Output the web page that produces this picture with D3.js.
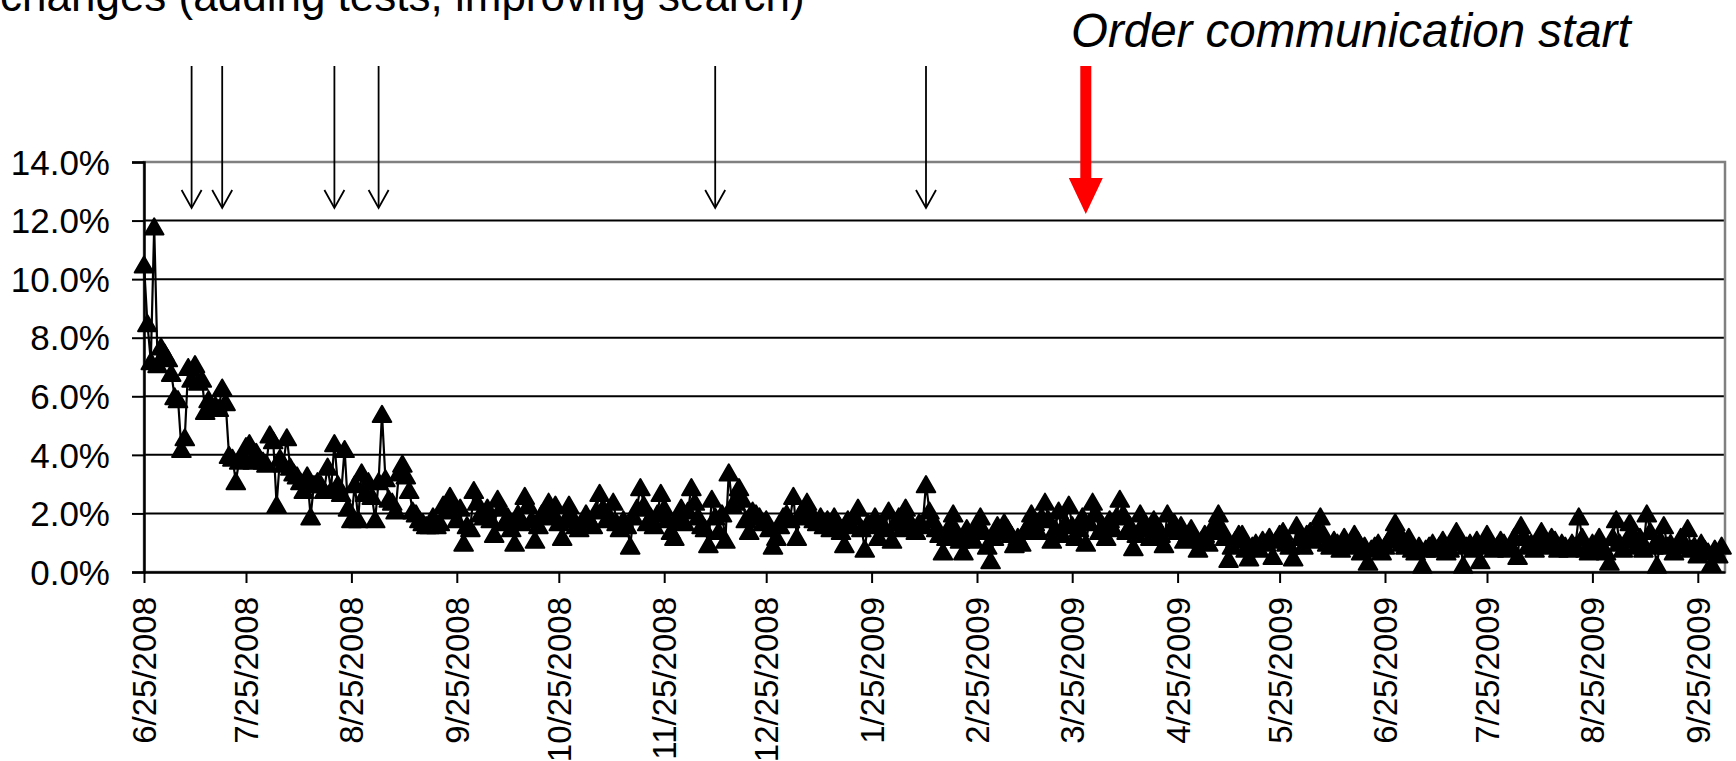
<!DOCTYPE html>
<html>
<head>
<meta charset="utf-8">
<script src="https://cdn.jsdelivr.net/npm/d3@7"></script>
<style>
  html, body { margin: 0; padding: 0; background: #fff; }
  svg { display: block; font-family: "Liberation Sans", Arial, sans-serif; }
</style>
</head>
<body>
<svg id="chart" width="1736" height="761"></svg>
<script>
// ---- data ----
const firstDay = "2008-06-25";
const lastAxisDay = "2009-10-03";

const tickLabels = ["6/25/2008", "7/25/2008", "8/25/2008", "9/25/2008", "10/25/2008",
  "11/25/2008", "12/25/2008", "1/25/2009", "2/25/2009", "3/25/2009", "4/25/2009",
  "5/25/2009", "6/25/2009", "7/25/2009", "8/25/2009", "9/25/2009"];

const yTicks = [0, 2, 4, 6, 8, 10, 12, 14];

// daily rate (%), one value per day starting at firstDay
const dailyRate = [
  10.5, 8.5, 7.2, 11.8, 7.1, 7.7, 7.5, 7.3, 6.8, 6.0,
  5.9, 4.2, 4.6, 7.0, 6.6, 7.1, 6.5, 6.6, 5.5, 5.9,
  5.6, 5.7, 5.6, 6.3, 5.8, 4.0, 3.9, 3.1, 3.8, 4.0,
  4.3, 4.4, 3.8, 4.1, 3.9, 3.8, 3.7, 4.7, 4.5, 2.3,
  3.9, 3.7, 4.6, 3.6, 3.4, 3.3, 3.1, 2.8, 3.3, 1.9,
  3.0, 3.1, 3.0, 2.8, 3.6, 2.8, 4.4, 3.0, 2.7, 4.2,
  2.2, 1.8, 3.0, 1.8, 3.4, 2.7, 3.1, 2.6, 1.8, 3.1,
  5.4, 3.2, 2.5, 2.4, 2.1, 3.4, 3.7, 3.3, 2.8, 2.1,
  2.0, 1.8, 1.7, 1.6, 1.6, 1.9, 1.6, 1.7, 2.3, 2.1,
  2.6, 2.3, 1.8, 2.2, 1.0, 1.6, 1.5, 2.8, 2.4, 2.0,
  1.9, 2.2, 1.8, 1.3, 2.5, 2.2, 1.7, 1.9, 1.5, 1.0,
  2.0, 1.7, 2.6, 2.3, 1.8, 1.1, 1.6, 2.0, 1.9, 2.4,
  2.0, 2.3, 1.7, 1.2, 1.8, 2.3, 1.9, 1.6, 1.5, 1.7,
  2.0, 1.8, 1.6, 2.1, 2.7, 2.2, 1.8, 1.9, 2.4, 1.7,
  1.5, 1.8, 1.6, 0.9, 1.9, 2.2, 2.9, 2.3, 1.7, 1.9,
  1.6, 2.0, 2.7, 2.2, 1.8, 1.4, 1.2, 1.9, 2.2, 1.7,
  2.1, 2.9, 2.4, 1.9, 1.6, 1.5, 0.95, 2.5, 1.9, 1.4,
  2.0, 1.1, 3.4, 2.3, 2.4, 2.9, 2.5, 1.8, 1.4, 2.1,
  2.0, 1.9, 1.7, 1.8, 1.5, 0.9, 1.2, 1.6, 1.9, 2.0,
  1.8, 2.6, 1.2, 2.0, 1.9, 2.4, 2.1, 1.8, 1.7, 1.9,
  1.6, 1.8, 1.5, 1.9, 1.7, 1.4, 0.95, 1.8, 1.6, 1.9,
  2.2, 1.5, 0.8, 1.7, 1.6, 1.9, 1.2, 1.7, 1.5, 2.1,
  1.1, 1.7, 1.9, 1.5, 2.2, 1.8, 1.6, 1.4, 1.7, 1.6,
  3.0, 2.1, 1.8, 1.5, 1.3, 0.7, 1.2, 1.6, 2.0, 1.4,
  1.1, 0.7, 1.5, 1.3, 1.1, 1.6, 1.9, 1.4, 0.9, 0.4,
  1.2, 1.6, 1.4, 1.7, 1.5, 1.3, 0.95, 1.2, 1.0, 1.4,
  1.6, 2.0, 1.7, 1.4, 1.9, 2.4, 1.8, 1.1, 1.5, 2.1,
  1.3, 1.7, 2.3, 1.6, 1.2, 1.5, 1.9, 1.0, 1.7, 2.4,
  2.0, 1.4, 1.6, 1.2, 1.8, 1.5, 1.9, 2.5, 2.0, 1.4,
  1.6, 0.85, 1.3, 2.0, 1.7, 1.5, 1.2, 1.8, 1.6, 1.3,
  0.95, 2.0, 1.5, 1.7, 1.4, 1.6, 1.1, 1.3, 1.5, 1.2,
  0.8, 1.1, 1.3, 1.0, 1.4, 1.7, 2.0, 1.5, 1.2, 0.45,
  0.9, 1.1, 1.3, 1.3, 0.8, 0.5, 0.9, 1.0, 0.8, 1.1,
  1.0, 1.2, 0.55, 1.1, 1.3, 1.4, 1.0, 0.9, 0.5, 1.6,
  1.2, 0.9, 1.3, 1.4, 1.1, 1.5, 1.9, 1.3, 1.0, 0.9,
  1.1, 1.0, 0.8, 1.2, 0.9, 1.0, 1.3, 1.1, 0.7, 0.9,
  0.35, 0.8, 0.9, 1.0, 0.7, 0.9, 1.1, 1.3, 1.7, 1.4,
  1.0, 0.9, 1.2, 0.8, 0.7, 0.9, 0.25, 0.8, 0.9, 1.0,
  0.8, 0.9, 1.1, 0.7, 0.8, 1.0, 1.4, 1.1, 0.25, 0.9,
  1.0, 0.8, 1.1, 0.4, 0.9, 1.3, 1.0, 0.8, 0.9, 1.1,
  1.0, 0.8, 0.9, 1.2, 0.55, 1.6, 1.2, 0.9, 1.0, 0.8,
  1.1, 1.4, 1.0, 0.9, 1.2, 1.1, 0.8, 1.0, 0.9, 0.8,
  1.0, 0.9, 1.9, 1.2, 0.8, 0.7, 1.0, 0.9, 1.2, 0.8,
  0.7, 0.35, 1.2, 1.8, 1.0, 0.8, 1.1, 1.7, 1.3, 0.9,
  1.2, 0.8, 2.0, 1.4, 0.9, 0.25, 1.1, 1.6, 0.9, 1.0,
  0.7, 0.9, 1.2, 1.0, 1.5, 0.8, 0.9, 0.6, 1.0, 0.8,
  0.7, 0.3, 0.8, 0.6, 0.9
];

// dates of system changes (thin arrows) and of the order communication start (red arrow)
const changeDates = ["2008-07-09", "2008-07-18", "2008-08-20", "2008-09-02", "2008-12-10", "2009-02-10"];
const orderStartDate = "2009-03-29";

const headerText = "changes (adding tests, improving search)";
const orderLabel = "Order communication start";

// ---- layout ----
const svg = d3.select("#chart");
const plot = { left: 144, right: 1725, top: 162, bottom: 572 };

const parseISO = d3.utcParse("%Y-%m-%d");
const parseLabel = d3.utcParse("%m/%d/%Y");
const day0 = parseISO(firstDay);

const points = dailyRate.map((v, i) => ({ date: d3.utcDay.offset(day0, i), value: v }));

const x = d3.scaleUtc()
  .domain([day0, parseISO(lastAxisDay)])
  .range([plot.left, plot.right]);

const y = d3.scaleLinear()
  .domain([0, 14])
  .range([plot.bottom, plot.top]);

// horizontal gridlines
svg.append("g")
  .selectAll("line")
  .data(yTicks.filter(t => t > 0 && t < 14))
  .join("line")
  .attr("x1", plot.left).attr("x2", plot.right)
  .attr("y1", d => y(d)).attr("y2", d => y(d))
  .attr("stroke", "#000").attr("stroke-width", 2);

// plot frame
svg.append("rect")
  .attr("x", plot.left).attr("y", y(14))
  .attr("width", plot.right - plot.left).attr("height", y(0) - y(14))
  .attr("fill", "none").attr("stroke", "#808080").attr("stroke-width", 2.5);

// series line and triangle markers
const line = d3.line().x(d => x(d.date)).y(d => y(d.value));
svg.append("path")
  .datum(points)
  .attr("d", line)
  .attr("fill", "none").attr("stroke", "#000").attr("stroke-width", 2.2)
  .attr("stroke-linejoin", "round");

const triArea = 150;
const triK = Math.sqrt(triArea / (3 * Math.sqrt(3))); // d3 triangle: apex at -2k, base at +k
svg.append("g")
  .selectAll("path")
  .data(points)
  .join("path")
  .attr("d", d3.symbol(d3.symbolTriangle, triArea))
  .attr("transform", d => `translate(${x(d.date)},${y(d.value) + triK / 2})`)
  .attr("fill", "#000").attr("stroke", "#000").attr("stroke-width", 2)
  .attr("stroke-linejoin", "round");

// y axis
const yAxis = svg.append("g")
  .attr("transform", `translate(${plot.left},0)`)
  .call(d3.axisLeft(y).tickValues(yTicks).tickSize(12).tickPadding(22)
    .tickFormat(d => d.toFixed(1) + "%"));
yAxis.select(".domain").attr("stroke", "#000").attr("stroke-width", 2.5);
yAxis.selectAll(".tick line").attr("stroke", "#000").attr("stroke-width", 2);
yAxis.selectAll(".tick text")
  .attr("font-family", "'Liberation Sans', Arial, sans-serif")
  .attr("font-size", 35).attr("fill", "#000").attr("dy", "0.35em");

// x axis
const tickDates = tickLabels.map(parseLabel);
const xAxis = svg.append("g")
  .attr("transform", `translate(0,${plot.bottom})`)
  .call(d3.axisBottom(x).tickValues(tickDates).tickSize(11).tickSizeOuter(0)
    .tickFormat(d3.utcFormat("%-m/%-d/%Y")));
xAxis.select(".domain").attr("stroke", "#000").attr("stroke-width", 2.5);
xAxis.selectAll(".tick line").attr("stroke", "#000").attr("stroke-width", 2);
xAxis.selectAll(".tick text")
  .attr("font-family", "'Liberation Sans', Arial, sans-serif")
  .attr("font-size", 33).attr("fill", "#000")
  .attr("text-anchor", "end")
  .attr("transform", "rotate(-90)")
  .attr("x", -25).attr("y", 0).attr("dy", "0.35em");

// thin arrows for system changes
const arrowTop = 66, arrowTip = 208;
const changeG = svg.append("g")
  .selectAll("g")
  .data(changeDates.map(parseISO))
  .join("g")
  .attr("transform", d => `translate(${x(d)},0)`);
changeG.append("line")
  .attr("x1", 0).attr("x2", 0).attr("y1", arrowTop).attr("y2", arrowTip - 1)
  .attr("stroke", "#000").attr("stroke-width", 1.8);
changeG.append("polyline")
  .attr("points", `-10,${arrowTip - 18} 0,${arrowTip} 10,${arrowTip - 18}`)
  .attr("fill", "none").attr("stroke", "#000").attr("stroke-width", 1.8);

// red arrow for the order communication start
const xr = x(parseISO(orderStartDate));
svg.append("path")
  .attr("d", `M${xr - 5.5},66 L${xr + 5.5},66 L${xr + 5.5},178 L${xr + 17},178 L${xr},214 L${xr - 17},178 L${xr - 5.5},178 Z`)
  .attr("fill", "#ff0000");

// texts
svg.append("text")
  .attr("x", 1071).attr("y", 47)
  .attr("font-size", 47.5).attr("font-style", "italic").attr("fill", "#000")
  .text(orderLabel);

svg.append("text")
  .attr("x", 0).attr("y", 11)
  .attr("font-size", 44).attr("fill", "#000")
  .text(headerText);
</script>
</body>
</html>
